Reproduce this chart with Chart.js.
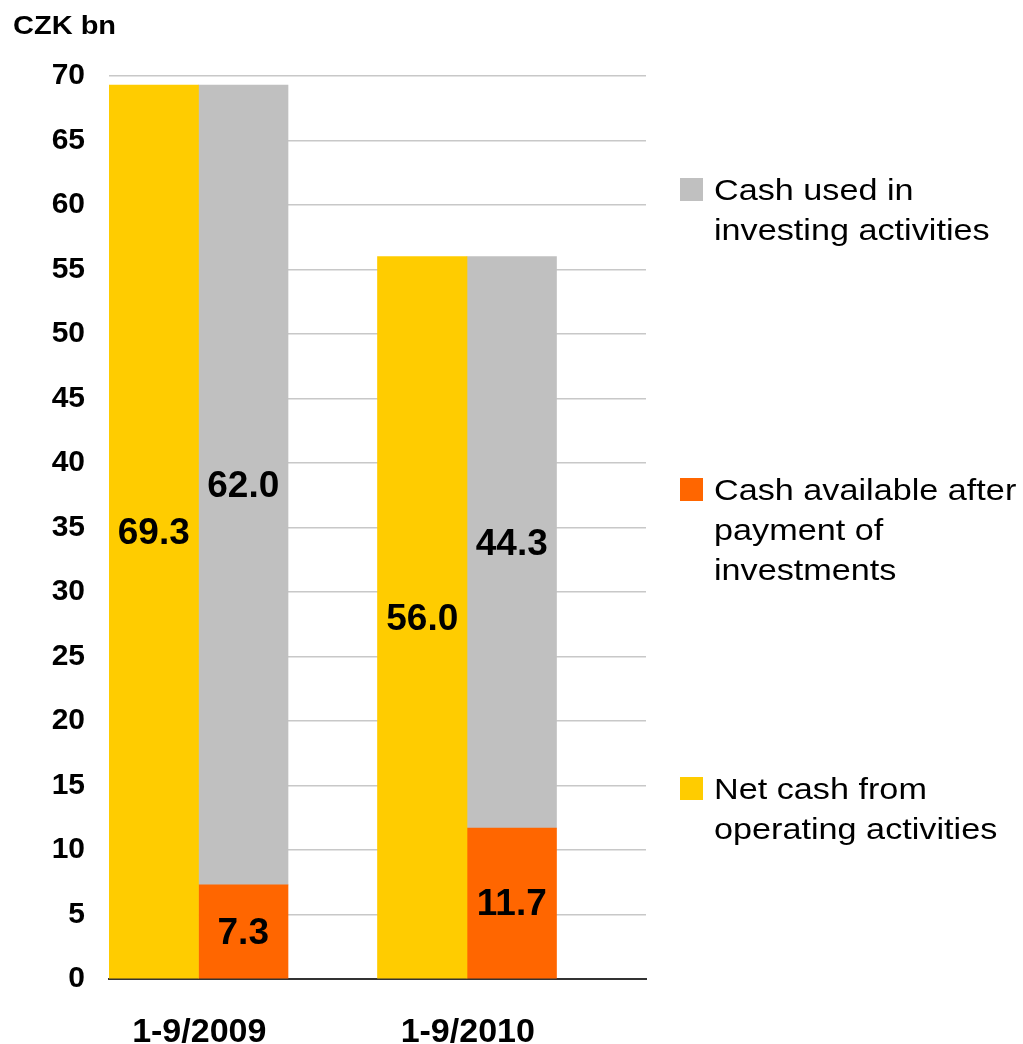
<!DOCTYPE html>
<html lang="en">
<head>
    <meta charset="UTF-8"/>
    <title>Cash flow</title>
    <style>
        html, body { margin: 0; padding: 0; background: #fff; }
        #wrap { position: relative; width: 1023px; height: 1044px; }
    </style>
    <script src="https://cdn.jsdelivr.net/npm/chart.js"></script>
</head>
<body>
    <div id="wrap"><canvas id="myChart" width="1023" height="1044"></canvas></div>
    <script>
        // data
        var periods = ['1-9/2009', '1-9/2010'];
        var netCash = [69.3, 56.0];
        var cashAvailable = [7.3, 11.7];
        var cashUsed = [62.0, 44.3];
        var yTicks = [0, 5, 10, 15, 20, 25, 30, 35, 40, 45, 50, 55, 60, 65, 70];

        var legendItems = [
            { color: '#C0C0C0', lines: ['Cash used in', 'investing activities'], top: 178 },
            { color: '#FF6600', lines: ['Cash available after', 'payment of', 'investments'], top: 478 },
            { color: '#FFCC00', lines: ['Net cash from', 'operating activities'], top: 777 }
        ];

        var FONT = '"Liberation Sans", Arial, sans-serif';

        // text drawn a bit wider, like the original
        function wideText(ctx, t, x, y, sx) {
            ctx.save();
            ctx.translate(x, y);
            ctx.scale(sx, 1);
            ctx.fillText(t, 0, 0);
            ctx.restore();
        }

        var extras = {
            id: 'extras',
            afterDatasetsDraw: function(chart) {
                var ctx = chart.ctx;
                ctx.save();
                // values in the bars
                ctx.fillStyle = '#000';
                ctx.font = 'bold 37px ' + FONT;
                ctx.textAlign = 'center';
                ctx.textBaseline = 'middle';
                chart.data.datasets.forEach(function(ds, i) {
                    if (ds.dummy) return;
                    chart.getDatasetMeta(i).data.forEach(function(bar, j) {
                        var v = ds.data[j];
                        ctx.fillText(v.toFixed(1), bar.x, (bar.y + bar.base) / 2 + 2);
                    });
                });
                // unit
                ctx.textAlign = 'left';
                ctx.font = 'bold 25px ' + FONT;
                wideText(ctx, 'CZK bn', 13, 27, 1.16);
                // legend
                ctx.font = '30px ' + FONT;
                legendItems.forEach(function(it) {
                    ctx.fillStyle = it.color;
                    ctx.fillRect(680, it.top, 23, 23);
                    ctx.fillStyle = '#000';
                    it.lines.forEach(function(t, k) {
                        wideText(ctx, t, 714, it.top + 14 + k * 40, 1.14);
                    });
                });
                ctx.restore();
            }
        };

        new Chart(document.getElementById('myChart'), {
            type: 'bar',
            data: {
                labels: periods,
                datasets: [
                    { label: 'Net cash from operating activities', data: netCash, backgroundColor: '#FFCC00', stack: 'a' },
                    { label: 'Cash available after payment of investments', data: cashAvailable, backgroundColor: '#FF6600', stack: 'b' },
                    { label: 'Cash used in investing activities', data: cashUsed, backgroundColor: '#C0C0C0', stack: 'b' },
                    { label: '', data: [0, 0], backgroundColor: 'rgba(0,0,0,0)', stack: 'c', dummy: true }
                ]
            },
            options: {
                responsive: false,
                animation: false,
                layout: { padding: { left: 0, right: 377, top: 76, bottom: 0 } },
                datasets: { bar: { barPercentage: 1, categoryPercentage: 1, borderWidth: 0 } },
                plugins: { legend: { display: false }, tooltip: { enabled: false } },
                scales: {
                    x: {
                        stacked: true,
                        grid: { display: false, drawTicks: false },
                        border: { display: true, color: '#333', width: 2 },
                        ticks: { color: '#000', font: { family: FONT, size: 34, weight: 'bold' }, padding: 33, labelOffset: -44 },
                        afterFit: function(s) { s.height = 65; }
                    },
                    y: {
                        stacked: true,
                        min: 0,
                        max: 70,
                        afterBuildTicks: function(s) { s.ticks = yTicks.map(function(v) { return { value: v }; }); },
                        grid: { color: '#C8C8C8', lineWidth: 1.5, drawTicks: false },
                        border: { display: false },
                        ticks: { color: '#000', font: { family: FONT, size: 30, weight: 'bold' }, padding: 24 },
                        afterFit: function(s) { s.width = 109; }
                    }
                }
            },
            plugins: [extras]
        });
    </script>
</body>
</html>
